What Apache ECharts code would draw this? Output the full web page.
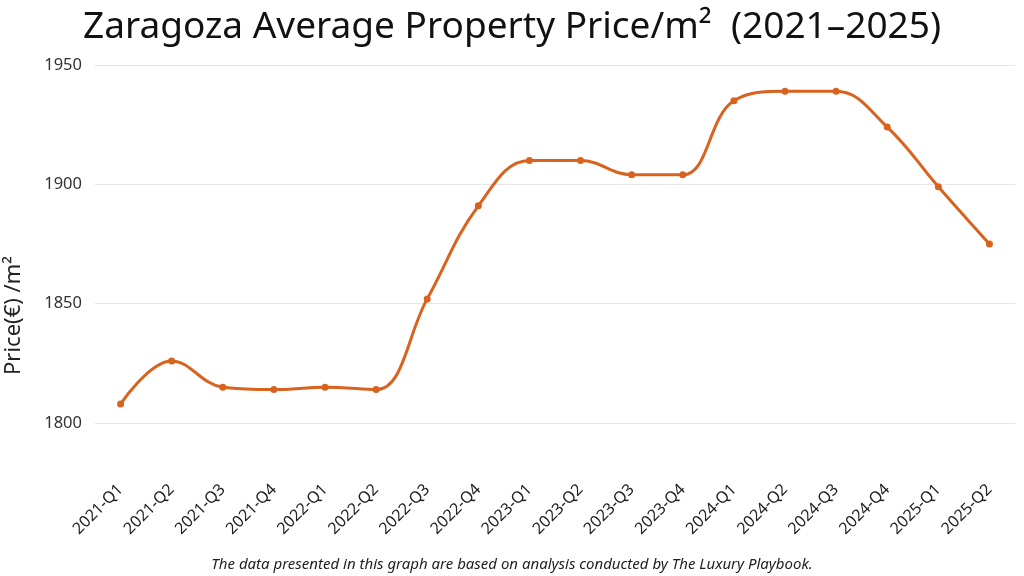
<!DOCTYPE html>
<html><head><meta charset="utf-8">
<script src="https://cdn.jsdelivr.net/npm/echarts@6/dist/echarts.min.js"></script>
<style>html,body{margin:0;padding:0;background:#fff}#c{width:1024px;height:576px}</style>
</head><body><div id="c"></div>
<script>
const categories = ['2021-Q1','2021-Q2','2021-Q3','2021-Q4','2022-Q1','2022-Q2','2022-Q3','2022-Q4','2023-Q1','2023-Q2','2023-Q3','2023-Q4','2024-Q1','2024-Q2','2024-Q3','2024-Q4','2025-Q1','2025-Q2'];
const prices = [1808,1826,1815,1814,1815,1814,1852,1891,1910,1910,1904,1904,1935,1939,1939,1924,1899,1875];
const yTicks = {min:1800, max:1950, interval:50};
const chart = echarts.init(document.getElementById('c'));
const font = '"Noto Sans", sans-serif';
chart.setOption({
  backgroundColor:'#fff',
  animation:false,
  title:{text:'Zaragoza Average Property Price/m²  (2021–2025)', left:'center', top:4,
    textStyle:{fontFamily:font, fontSize:37, fontWeight:'normal', color:'#111'}},
  grid:{left:95, right:9, top:65, bottom:153},
  xAxis:{type:'category', data:categories, boundaryGap:true,
    axisLine:{show:false}, axisTick:{show:false},
    axisLabel:{rotate:45, margin:64, fontFamily:font, fontSize:16, color:'#222', interval:0}},
  yAxis:{type:'value', min:yTicks.min, max:yTicks.max, interval:yTicks.interval,
    axisLine:{show:false}, axisTick:{show:false},
    axisLabel:{fontFamily:font, fontSize:16.5, color:'#333', margin:13, formatter:(v)=>String(v)},
    splitLine:{lineStyle:{color:'#e6e6e6', width:1}}},
  graphic:[
    {type:'text', left:3, top:256, rotation:Math.PI/2, style:{text:'Price(€) /m²', font:'22px "Noto Sans", sans-serif', fill:'#222'}},
    {type:'text', left:'center', top:557, style:{text:'The data presented in this graph are based on analysis conducted by The Luxury Playbook.', font:'italic 15px "Noto Sans", sans-serif', fill:'#222'}}
  ],
  series:[{type:'line', data:prices, smooth:0.4, symbol:'circle', symbolSize:7,
    lineStyle:{color:'#D9631E', width:3}, itemStyle:{color:'#D9631E'}}]
});
</script></body></html>
